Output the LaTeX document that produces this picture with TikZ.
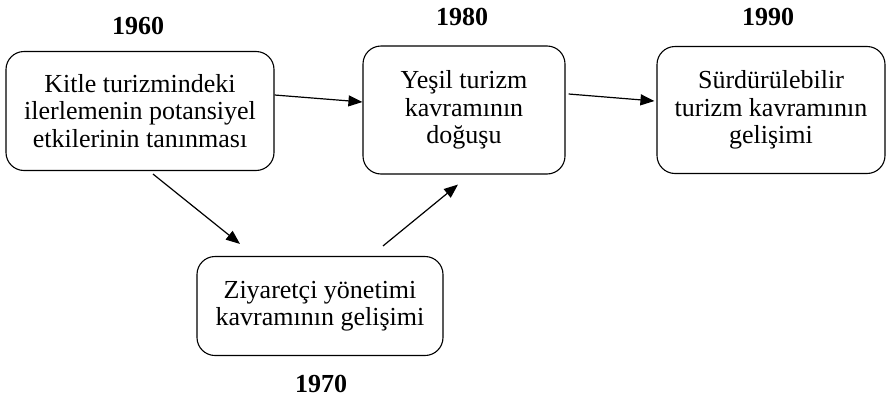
\documentclass[tikz,border=0pt]{standalone}
\usepackage{fontspec}
\setmainfont{Liberation Serif}
\usetikzlibrary{positioning,arrows.meta}
\tikzset{stage/.style={draw, rounded corners=18pt, line width=1.1pt, align=center, inner sep=0pt, font=\fontsize{26}{27.5}\selectfont}}
\tikzset{year/.style={font=\fontsize{26}{28}\selectfont\bfseries}}
\tikzset{arr/.style={draw, -{Triangle[length=14pt,width=11pt]}, line width=1.2pt}}

\begin{document}
\begin{tikzpicture}[x=1pt,y=-1pt]
			\useasboundingbox (0,0) rectangle (887,402);
			\node[stage, minimum width=268pt, minimum height=119pt] (mass) at (140,111)
				{Kitle turizmindeki\\ilerlemenin potansiyel\\etkilerinin tanınması};
			\node[stage, minimum width=202pt, minimum height=128pt] (green) at (464,110)
				{Yeşil turizm\\kavramının\\doğuşu};
			\node[stage, minimum width=228pt, minimum height=127pt] (sust) at (771,110)
				{Sürdürülebilir\\turizm kavramının\\gelişimi};
			\node[stage, minimum width=246pt, minimum height=99pt] (visit) at (320,306)
				{Ziyaretçi yönetimi\\kavramının gelişimi};
			\node[year] (y1960) at (138,26) {1960};
			\node[year] (y1980) at (462,17) {1980};
			\node[year] (y1990) at (768,17) {1990};
			\node[year] (y1970) at (321,384) {1970};
			\draw[arr] ([yshift=16pt]mass.east) -- ([yshift=8pt]green.west);
			\draw[arr] ([xshift=3pt,yshift=16pt]green.east) -- ([xshift=-2pt,yshift=9pt]sust.west);
			\draw[arr] ([xshift=13pt,yshift=-3pt]mass.south) -- ([xshift=-80pt,yshift=12pt]visit.north);
			\draw[arr] ([xshift=63pt,yshift=10pt]visit.north) -- ([xshift=-6pt,yshift=-10pt]green.south);
		\end{tikzpicture}
\end{document}
